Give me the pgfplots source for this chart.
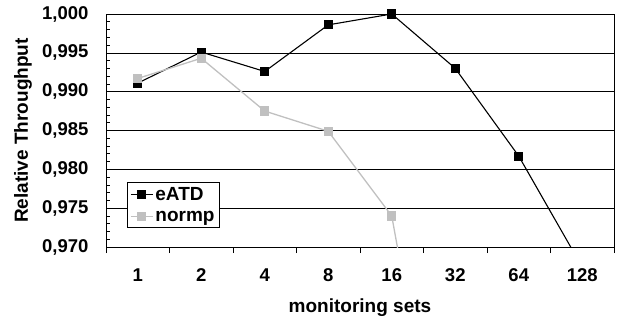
\documentclass[border=0pt]{standalone}
\usepackage{fontspec}
\setmainfont{Liberation Sans}
\usepackage{pgfplots}
\pgfplotsset{compat=1.18}
\definecolor{silvergray}{RGB}{192,192,192}
\newcommand{\lblfont}{\fontsize{19bp}{22bp}\selectfont\bfseries}
\newcommand{\tckfont}{\fontsize{18.5bp}{21bp}\selectfont\bfseries}
\begin{document}
\begin{tikzpicture}
\begin{axis}[
  scale only axis, width=508bp, height=233bp,
  xmin=-0.5, xmax=7.5, ymin=0.970, ymax=1.000,
  xtick={-0.5,0.5,1.5,2.5,3.5,4.5,5.5,6.5,7.5},
  xticklabels={1,2,4,8,16,32,64,128,{}},
  ytick={0.970,0.975,0.980,0.985,0.990,0.995,1.000},
  minor y tick num=4,
  xtick pos=lower, ytick pos=left,
  tick align=outside,
  major tick length=6bp, minor tick length=4bp,
  major y tick style={draw=none},
  minor y tick style={xshift=4bp, black, line width=0.6bp},
  major x tick style={black, line width=0.8bp},
  ymajorgrids, grid style={black, line width=0.6bp},
  axis line style={black, line width=0.8bp},
  x tick label style={xshift=31.75bp, yshift=-12bp, font=\tckfont},
  y tick label style={font=\tckfont, xshift=-8bp,
    /pgf/number format/fixed, /pgf/number format/fixed zerofill,
    /pgf/number format/precision=3, /pgf/number format/use comma,
    /pgf/number format/assume math mode=true},
  xlabel={monitoring sets}, ylabel={Relative Throughput},
  x label style={at={(axis description cs:0.5,0)}, anchor=base, yshift=-65bp, font=\lblfont},
  y label style={at={(axis description cs:0,0.5)}, anchor=base, yshift=78bp, font=\lblfont},
  legend style={at={(0.041,0.082)}, anchor=south west, draw=black, line width=0.6bp,
    font=\lblfont, inner xsep=3bp, inner ysep=3bp, row sep=5bp,
    /tikz/every even column/.append style={column sep=2bp}},
  legend image code/.code={\draw[mark repeat=2,mark phase=2] plot coordinates {(0bp,0bp) (11bp,0bp) (22bp,0bp)};},
  legend cell align=left,
]
\addplot[black, line width=1.1bp, mark=square*, mark size=4bp, mark options={solid}]
  coordinates {(0,0.9911) (1,0.9951) (2,0.9926) (3,0.9986) (4,1.0000) (5,0.9930) (6,0.9817) (7,0.9674)};
\addlegendentry{eATD}
\addplot[silvergray, line width=1.3bp, mark=square*, mark size=4bp, mark options={solid}]
  coordinates {(0,0.9917) (1,0.9943) (2,0.9875) (3,0.9849) (4,0.9740) (5,0.9290)};
\addlegendentry{normp}
\end{axis}
\pgfresetboundingbox
\path[use as bounding box] ([shift={(-106bp,-73bp)}]current axis.south west) rectangle ([shift={(4bp,14bp)}]current axis.north east);
\end{tikzpicture}
\end{document}
